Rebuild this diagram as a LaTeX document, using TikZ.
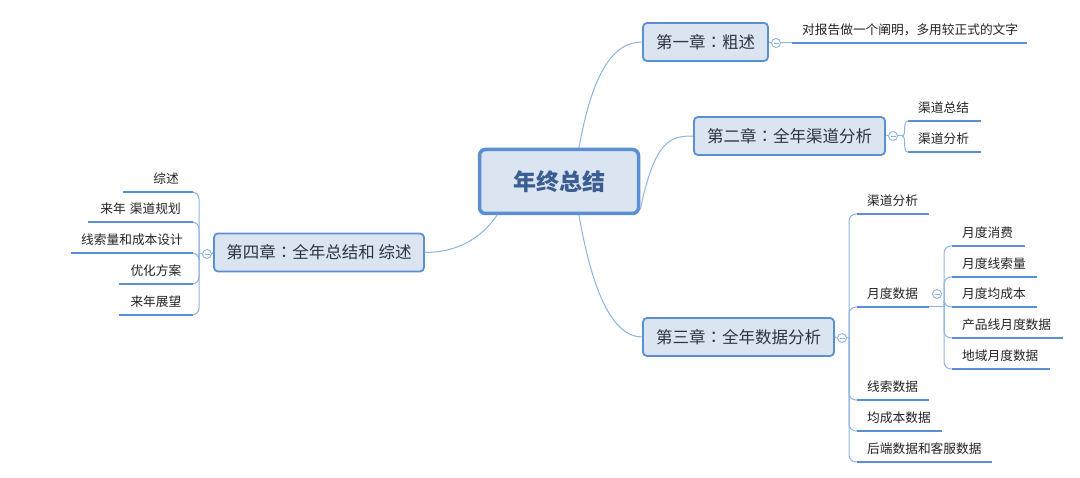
\documentclass[tikz,border=0pt]{standalone}
\usepackage{fontspec}
\setmainfont{Noto Sans CJK SC}
\newfontfamily\jpfont{Noto Sans CJK JP}
\newcommand{\zcolon}{{\jpfont ：}}
\definecolor{boxfill}{HTML}{DBE5F2}
\definecolor{boxline}{HTML}{5B8FD3}
\definecolor{connc}{HTML}{8DB3E2}
\definecolor{ulc}{HTML}{5B8FD3}
\definecolor{chtext}{HTML}{2E3440}
\definecolor{roottext}{HTML}{3A5E92}
\definecolor{leaftext}{HTML}{222222}
\tikzset{
  rootbox/.style={draw=boxline, fill=boxfill, line width=3.5pt, rounded corners=6pt,
    minimum width=159pt, minimum height=64pt, inner sep=0pt, text=roottext,
    font=\fontsize{23}{28}\selectfont\bfseries},
  chbox/.style={draw=boxline, fill=boxfill, line width=1.8pt, rounded corners=4pt,
    minimum height=38pt, inner sep=0pt, text=chtext,
    font=\fontsize{16.5}{20}\selectfont},
  leaf/.style={anchor=south west, inner xsep=10pt, inner ysep=8pt, text depth=0pt,
    align=left, text=leaftext, font=\fontsize{12.7}{15}\selectfont},
  leafr/.style={anchor=south east, inner xsep=14pt, inner ysep=8pt, text depth=0pt,
    align=right, text=leaftext, font=\fontsize{12.7}{15}\selectfont},
  ul/.style={draw=ulc, line width=2.4pt},
  conn/.style={draw=connc, line width=1pt},
  dot/.style={circle, draw=connc, fill=white, minimum size=9pt, inner sep=0pt, line width=0.9pt,
    path picture={\draw[connc, line width=0.9pt] ([xshift=-2.5pt]path picture bounding box.center) -- ([xshift=2.5pt]path picture bounding box.center);}}
}
\begin{document}
\begin{tikzpicture}[x=1pt, y=-1pt]
\useasboundingbox (0,0) rectangle (1080,478);

% root
\node[rootbox] (root) at (559,181.5) {年终总结};

% chapters
\node[chbox, minimum width=125pt] (ch1) at (705.5,42) {第一章\zcolon 粗述};
\node[chbox, minimum width=191pt] (ch2) at (789.5,136) {第二章\zcolon 全年渠道分析};
\node[chbox, minimum width=191pt] (ch3) at (738.5,337) {第三章\zcolon 全年数据分析};
\node[chbox, minimum width=210pt] (ch4) at (319,252.5) {第四章\zcolon 全年总结和 综述};

% root connectors
\draw[conn] ([xshift=20pt]root.north) .. controls (592,75) and (612,42) .. (ch1.west);
\draw[conn] ([yshift=-28pt]root.east) .. controls (655,140) and (670,136) .. (ch2.west);
\draw[conn] ([xshift=20pt]root.south) .. controls (592,290) and (612,337) .. (ch3.west);
\draw[conn] ([xshift=-62pt]root.south) .. controls (480,240) and (455,252.5) .. (ch4.east);

% chapter 1
\node[dot] (d1) at (776,43) {};
\node[leaf, text width=215pt] (l11) at (792,43) {对报告做一个阐明，多用较正式的文字};
\draw[conn] (ch1.east) -- (d1.west);
\draw[conn] (d1.east) -- (l11.south west);
\draw[ul] (l11.south west) -- (l11.south east);

% chapter 2
\node[dot] (d2) at (893,136) {};
\coordinate (h2) at (902,136);
\node[leaf, text width=53pt] (l21) at (908,121) {渠道总结};
\node[leaf, text width=53pt] (l22) at (908,152) {渠道分析};
\draw[conn] (ch2.east) -- (d2.west);
\draw[conn] (d2.east) -- (h2);
\foreach \n in {l21,l22} {
  \draw[conn] (h2) .. controls +(5,0) and +(-6,0) .. (\n.south west);
  \draw[ul] (\n.south west) -- (\n.south east);
}

% chapter 3
\node[dot] (d3) at (842,338) {};
\coordinate (h3) at (849,338);
\node[leaf, text width=52pt] (l31) at (857,214) {渠道分析};
\node[leaf, text width=52pt] (l32) at (857,307) {月度数据};
\node[leaf, text width=52pt] (l33) at (857,400) {线索数据};
\node[leaf, text width=65pt] (l34) at (857,431) {均成本数据};
\node[leaf, text width=115pt] (l35) at (857,462) {后端数据和客服数据};
\draw[conn] (ch3.east) -- (d3.west);
\draw[conn] (d3.east) -- (h3);
\foreach \n in {l31,l32,l33,l34,l35} {
  \draw[conn, rounded corners=7pt] (h3) |- (\n.south west);
  \draw[ul] (\n.south west) -- (\n.south east);
}

% monthly data
\node[dot] (d32) at (937,294) {};
\coordinate (h32) at (944,307);
\node[leaf, text width=53pt] (m1) at (952,246) {月度消费};
\node[leaf, text width=65pt] (m2) at (952,277) {月度线索量};
\node[leaf, text width=65pt] (m3) at (952,307) {月度均成本};
\node[leaf, text width=91pt] (m4) at (952,338) {产品线月度数据};
\node[leaf, text width=78pt] (m5) at (952,369) {地域月度数据};
\draw[conn] (l32.south east) -- (h32);
\foreach \n in {m1,m2,m3,m4,m5} {
  \draw[conn, rounded corners=7pt] (h32) |- (\n.south west);
  \draw[ul] (\n.south west) -- (\n.south east);
}

% chapter 4
\node[dot] (d4) at (207,254) {};
\coordinate (h4) at (199,254);
\node[leafr, text width=42pt] (l41) at (193,192) {综述};
\node[leafr, text width=81pt, inner xsep=12pt] (l42) at (193,222) {来年 渠道规划};
\node[leafr, text width=102pt, inner xsep=10pt] (l43) at (193,253) {线索量和成本设计};
\node[leafr, text width=51pt, inner xsep=11.5pt] (l44) at (193,284) {优化方案};
\node[leafr, text width=51pt, inner xsep=11.5pt] (l45) at (193,315) {来年展望};
\draw[conn] (ch4.west) -- (d4.east);
\draw[conn] (d4.west) -- (h4);
\foreach \n in {l41,l42,l43,l44,l45} {
  \draw[conn, rounded corners=7pt] (h4) |- (\n.south east);
  \draw[ul] (\n.south west) -- (\n.south east);
}
\end{tikzpicture}
\end{document}
